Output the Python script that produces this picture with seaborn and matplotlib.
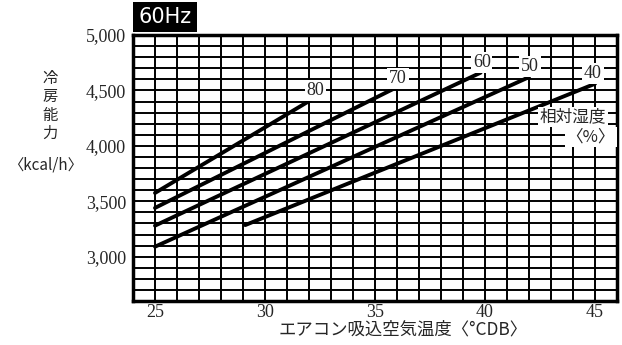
import matplotlib
matplotlib.use('Agg')
import matplotlib.pyplot as plt
import numpy as np
import pandas as pd
import seaborn as sns

# 相対湿度ごとの冷房能力 (kcal/h) vs 吸込空気温度 (°CDB)
rh_levels = ['80', '70', '60', '50', '40']
temp_80 = [25, 32.1]
cap_80 = [3575, 4415]
temp_70 = [25, 35.9]
cap_70 = [3440, 4520]
temp_60 = [25, 39.8]
cap_60 = [3280, 4660]
temp_50 = [25, 42]
cap_50 = [3090, 4620]
temp_40 = [29.1, 45]
cap_40 = [3285, 4560]

x_ticks = [25, 30, 35, 40, 45]
y_ticks = [3000, 3500, 4000, 4500, 5000]

temps = [temp_80, temp_70, temp_60, temp_50, temp_40]
caps = [cap_80, cap_70, cap_60, cap_50, cap_40]
df = pd.concat([pd.DataFrame({'temp': t, 'cap': c, 'rh': rh})
                for rh, t, c in zip(rh_levels, temps, caps)], ignore_index=True)

sns.set_style('white')
plt.rcParams['font.family'] = ['Liberation Serif', 'Noto Sans CJK JP', 'DejaVu Sans']
cjk = ['Noto Sans CJK JP', 'DejaVu Sans']

fig = plt.figure(figsize=(6.22, 3.45), dpi=100)
ax = fig.add_axes([133 / 622, 44 / 345, 484 / 622, 266 / 345])

sns.lineplot(data=df, x='temp', y='cap', hue='rh', estimator=None, sort=False,
             palette={rh: 'black' for rh in rh_levels}, legend=False,
             linewidth=2.8, solid_capstyle='round', ax=ax, zorder=3)

ax.set_xlim(24, 46)
ax.set_ylim(2600, 5000)
ax.set_xticks(x_ticks)
ax.set_xticks(np.arange(24, 47), minor=True)
ax.set_yticks(y_ticks)
ax.set_yticks(np.arange(2600, 5001, 100), minor=True)
ax.set_yticklabels([f'{v:,}' for v in y_ticks])
ax.grid(which='both', color='black', linewidth=1.4)
ax.set_axisbelow(True)
ax.tick_params(axis='x', which='major', length=0, labelsize=13, pad=2)
ax.tick_params(axis='y', which='major', length=4, width=1.2, labelsize=13, pad=1, color='black')
ax.tick_params(which='minor', length=0)
ax.set_xlabel('')
ax.set_ylabel('')
for s in ax.spines.values():
    s.set_linewidth(2.5)
    s.set_color('black')

box = dict(boxstyle='square,pad=0.1', fc='white', ec='none')
for txt, x, y in [('80', 32.3, 4500), ('70', 36.05, 4610), ('60', 39.85, 4750),
                  ('50', 42.05, 4715), ('40', 44.9, 4650)]:
    ax.text(x, y, txt, fontsize=13, ha='center', va='center', bbox=box, zorder=4)
ax.text(44.0, 4260, '相対湿度', family=cjk, fontsize=12, ha='center', va='center',
        bbox=box, zorder=4)
ax.text(44.8, 4080, '〈%〉', family=cjk, fontsize=12, ha='center', va='center',
        bbox=box, zorder=4)

fig.text(165 / 622, 1 - 17 / 345, '60Hz', color='white', fontsize=15, family='DejaVu Sans',
         ha='center', va='center',
         bbox=dict(boxstyle='square,pad=0.25', fc='black', ec='none'))
fig.text(50 / 622, 1 - 106 / 345, '冷\n房\n能\n力', family=cjk, fontsize=11,
         ha='center', va='center', linespacing=1.1)
fig.text(45 / 622, 1 - 165 / 345, '〈kcal/h〉', family=cjk, fontsize=11,
         ha='center', va='center')
fig.text(403 / 622, 1 - 330 / 345, 'エアコン吸込空気温度〈°CDB〉', family=cjk, fontsize=12.5,
         ha='center', va='center')

fig.savefig('out.png', dpi=100, facecolor='white')
